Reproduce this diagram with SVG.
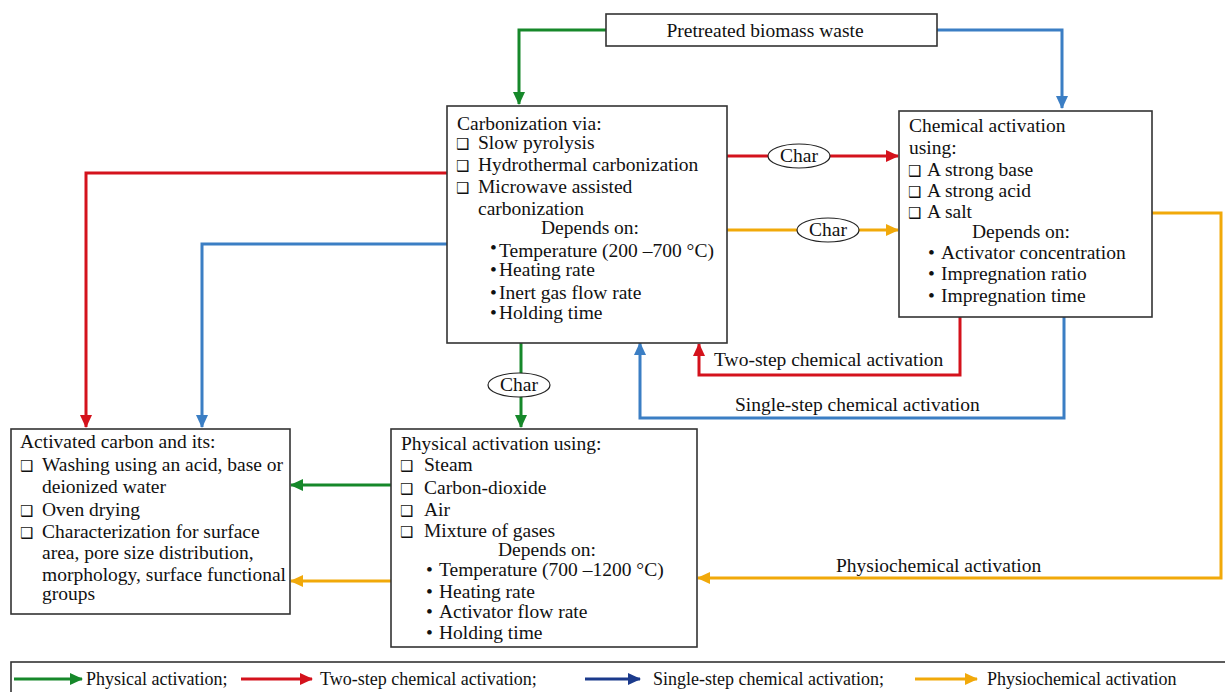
<svg xmlns="http://www.w3.org/2000/svg" width="1225" height="692" viewBox="0 0 1225 692" font-family="'Liberation Serif', 'Times New Roman', 'DejaVu Serif', serif">
<style>
text{font-family:'Liberation Serif','Times New Roman','DejaVu Serif',serif;font-size:19.5px;fill:#111}
text.lg{font-size:18px}
.box{fill:#fff;stroke:#333;stroke-width:1.6}
text.cb{font-family:'DejaVu Sans',sans-serif;font-size:15px}
.c{fill:none;stroke-width:3;stroke-linejoin:miter}
.g{stroke:#16882a}.r{stroke:#d4121c}.b{stroke:#3b7ec4}.y{stroke:#f1a90a}.n{stroke:#1b3a8c}
.ell{fill:#fff;stroke:#222;stroke-width:1.2}
</style>
<defs>
<marker id="ag" markerUnits="userSpaceOnUse" markerWidth="14" markerHeight="12" refX="12" refY="6" orient="auto"><path d="M0,0 L13,6 L0,12 Z" fill="#16882a"/></marker>
<marker id="ar" markerUnits="userSpaceOnUse" markerWidth="14" markerHeight="12" refX="12" refY="6" orient="auto"><path d="M0,0 L13,6 L0,12 Z" fill="#d4121c"/></marker>
<marker id="ab" markerUnits="userSpaceOnUse" markerWidth="14" markerHeight="12" refX="12" refY="6" orient="auto"><path d="M0,0 L13,6 L0,12 Z" fill="#3b7ec4"/></marker>
<marker id="ay" markerUnits="userSpaceOnUse" markerWidth="14" markerHeight="12" refX="12" refY="6" orient="auto"><path d="M0,0 L13,6 L0,12 Z" fill="#f1a90a"/></marker>
<marker id="an" markerUnits="userSpaceOnUse" markerWidth="14" markerHeight="12" refX="12" refY="6" orient="auto"><path d="M0,0 L13,6 L0,12 Z" fill="#1b3a8c"/></marker>
</defs>
<rect width="1225" height="692" fill="#fff"/>

<g id="connectors">
<path class="c g" d="M606,30 H519 V104" marker-end="url(#ag)"/>
<path class="c b" d="M937,30 H1062 V108" marker-end="url(#ab)"/>
<path class="c r" d="M447,173 H86 V427" marker-end="url(#ar)"/>
<path class="c b" d="M447,244 H202 V427" marker-end="url(#ab)"/>
<path class="c r" d="M727,156 H898" marker-end="url(#ar)"/>
<path class="c y" d="M727,230 H898" marker-end="url(#ay)"/>
<path class="c g" d="M521,343 V427" marker-end="url(#ag)"/>
<path class="c r" d="M960,317 V375 H699 V344" marker-end="url(#ar)"/>
<path class="c b" d="M1064,317 V418 H640 V343" marker-end="url(#ab)"/>
<path class="c y" d="M1152,213 H1221 V578 H698" marker-end="url(#ay)"/>
<path class="c g" d="M391,485 H291" marker-end="url(#ag)"/>
<path class="c y" d="M391,581 H291" marker-end="url(#ay)"/>
<ellipse class="ell" cx="799" cy="156" rx="31" ry="12"/>
<text x="799" y="162" text-anchor="middle">Char</text>
<ellipse class="ell" cx="828" cy="230" rx="31" ry="12"/>
<text x="828" y="236" text-anchor="middle">Char</text>
<ellipse class="ell" cx="519" cy="385" rx="31" ry="12"/>
<text x="519" y="391" text-anchor="middle">Char</text>
<text x="714" y="366">Two-step chemical activation</text>
<text x="735" y="411">Single-step chemical activation</text>
<text x="836" y="572">Physiochemical activation</text>
</g>

<g id="pretreated">
<rect class="box" x="606" y="14" width="331" height="32"/>
<text x="765" y="37" text-anchor="middle">Pretreated biomass waste</text>
</g>

<g id="carbonization">
<rect class="box" x="447" y="106" width="280" height="237"/>
<text x="457" y="130">Carbonization via:</text>
<text class="cb" x="456" y="149">❑</text><text x="478" y="149">Slow pyrolysis</text>
<text class="cb" x="456" y="171">❑</text><text x="478" y="171">Hydrothermal carbonization</text>
<text class="cb" x="456" y="193">❑</text><text x="478" y="193">Microwave assisted</text>
<text x="478" y="215">carbonization</text>
<text x="590" y="234" text-anchor="middle">Depends on:</text>
<text x="490" y="254">•</text><text x="499" y="257">Temperature (200 –700 °C)</text>
<text x="490" y="276">•</text><text x="499" y="276">Heating rate</text>
<text x="490" y="299">•</text><text x="499" y="299">Inert gas flow rate</text>
<text x="490" y="319">•</text><text x="499" y="319">Holding time</text>
</g>

<g id="chemical">
<rect class="box" x="899" y="111" width="253" height="206"/>
<text x="909" y="132">Chemical activation</text>
<text x="909" y="154">using:</text>
<text class="cb" x="908" y="176">❑</text><text x="927" y="176">A strong base</text>
<text class="cb" x="908" y="197">❑</text><text x="927" y="197">A strong acid</text>
<text class="cb" x="908" y="218">❑</text><text x="927" y="218">A salt</text>
<text x="1021" y="238" text-anchor="middle">Depends on:</text>
<text x="928" y="259">•</text><text x="941" y="259">Activator concentration</text>
<text x="928" y="280">•</text><text x="941" y="280">Impregnation ratio</text>
<text x="928" y="302">•</text><text x="941" y="302">Impregnation time</text>
</g>

<g id="activated-carbon">
<rect class="box" x="11" y="429" width="279" height="185"/>
<text x="20" y="448">Activated carbon and its:</text>
<text class="cb" x="20" y="471">❑</text><text x="42" y="471">Washing using an acid, base or</text>
<text x="42" y="493">deionized water</text>
<text class="cb" x="20" y="516">❑</text><text x="42" y="516">Oven drying</text>
<text class="cb" x="20" y="538">❑</text><text x="42" y="538">Characterization for surface</text>
<text x="42" y="559">area, pore size distribution,</text>
<text x="42" y="581">morphology, surface functional</text>
<text x="42" y="600">groups</text>
</g>

<g id="physical">
<rect class="box" x="391" y="429" width="306" height="218"/>
<text x="401" y="450">Physical activation using:</text>
<text class="cb" x="400" y="471">❑</text><text x="424" y="471">Steam</text>
<text class="cb" x="400" y="494">❑</text><text x="424" y="494">Carbon-dioxide</text>
<text class="cb" x="400" y="516">❑</text><text x="424" y="516">Air</text>
<text class="cb" x="400" y="537">❑</text><text x="424" y="537">Mixture of gases</text>
<text x="547" y="556" text-anchor="middle">Depends on:</text>
<text x="426" y="576">•</text><text x="439" y="576">Temperature (700 –1200 °C)</text>
<text x="426" y="598">•</text><text x="439" y="598">Heating rate</text>
<text x="426" y="618">•</text><text x="439" y="618">Activator flow rate</text>
<text x="426" y="639">•</text><text x="439" y="639">Holding time</text>
</g>

<g id="legend">
<rect class="box" x="11" y="662" width="1220" height="40"/>
<path class="c g" d="M14,679 H82" marker-end="url(#ag)"/>
<text class="lg" x="86" y="685">Physical activation;</text>
<path class="c r" d="M241,679 H312" marker-end="url(#ar)"/>
<text class="lg" x="320" y="685">Two-step chemical activation;</text>
<path class="c n" d="M585,679 H640" marker-end="url(#an)"/>
<text class="lg" x="653" y="685">Single-step chemical activation;</text>
<path class="c y" d="M915,679 H977" marker-end="url(#ay)"/>
<text class="lg" x="987" y="685">Physiochemical activation</text>
</g>
</svg>
